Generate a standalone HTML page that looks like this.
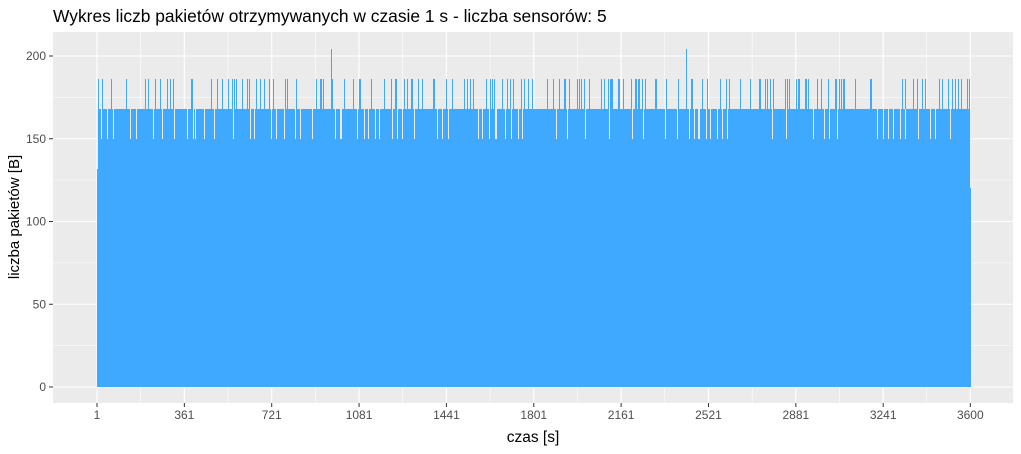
<!DOCTYPE html>
<html><head><meta charset="utf-8"><style>
body{margin:0;background:#fff;font-family:"Liberation Sans",sans-serif}
</style></head><body>
<svg id="c" width="1021" height="449" xmlns="http://www.w3.org/2000/svg">
<rect x="0" y="0" width="1021" height="449" fill="#fff"/>
<rect x="53" y="32" width="960" height="371" fill="#EBEBEB"/>
<g id="grid"></g><g id="bars" shape-rendering="crispEdges"></g><g id="axes"></g>
<text x="53" y="22" font-size="17.4" fill="#000">Wykres liczb pakietów otrzymywanych w czasie 1 s - liczba sensorów: 5</text>
<text x="533" y="442" font-size="15.5" text-anchor="middle" fill="#000">czas [s]</text>
<text transform="translate(19,217) rotate(-90)" font-size="15" text-anchor="middle" fill="#000">liczba pakietów [B]</text>
</svg>
<script>
const N = 3600;
const baseValue = 168;
const firstValue = 132;
const lastValue = 120;
const spikes186 = [7,23,60,122,200,213,241,262,291,303,316,390,394,472,497,518,542,559,567,575,600,621,629,658,674,691,711,728,777,786,823,905,922,926,934,971,1021,1058,1082,1087,1132,1185,1214,1231,1235,1268,1280,1297,1301,1326,1342,1388,1392,1441,1466,1515,1528,1540,1552,1606,1623,1631,1639,1672,1693,1705,1717,1750,1763,1779,1796,1858,1882,1907,1928,1932,1948,1981,1989,1998,2010,2031,2080,2093,2109,2117,2121,2126,2150,2154,2171,2204,2220,2224,2233,2237,2249,2262,2303,2307,2348,2398,2451,2455,2497,2517,2571,2595,2608,2653,2694,2731,2736,2756,2764,2777,2789,2839,2847,2855,2884,2892,2896,2921,2925,2933,2971,2987,3016,3045,3049,3061,3070,3078,3082,3127,3189,3193,3321,3333,3366,3383,3403,3416,3474,3486,3511,3527,3540,3552,3564,3589,3597];
const spikes204 = [967,2431];
const dips150 = [19,44,68,138,163,233,270,320,373,398,406,443,485,563,633,650,720,740,773,819,839,889,984,1004,1008,1074,1103,1120,1148,1165,1219,1239,1260,1309,1404,1425,1449,1573,1590,1618,1643,1647,1684,1709,1738,1755,1895,1940,2014,2113,2208,2253,2344,2393,2443,2464,2480,2484,2513,2529,2558,2579,2600,2785,2843,2954,2999,3020,3053,3218,3243,3263,3284,3313,3335,3385,3436,3457,3519];
const xTicks = [1,361,721,1081,1441,1801,2161,2521,2881,3241,3600];
const yTicks = [0,50,100,150,200];

const NS="http://www.w3.org/2000/svg";
const values = new Array(N).fill(baseValue);
spikes186.forEach(t=>values[t-1]=186);
spikes204.forEach(t=>values[t-1]=204);
dips150.forEach(t=>values[t-1]=150);
values[0]=firstValue; values[N-1]=lastValue;

const x0=97, x1=970.3, y0=387, ky=(387-56)/200;
const xs=t=>x0+(t-1)*(x1-x0)/(N-1);
const ys=v=>y0-v*ky;
function mk(tag,attrs,parent){const e=document.createElementNS(NS,tag);for(const k in attrs)e.setAttribute(k,attrs[k]);parent.appendChild(e);return e;}
const grid=document.getElementById('grid'), bars=document.getElementById('bars'), axes=document.getElementById('axes');
for(let i=0;i<yTicks.length;i++){
  const y=ys(yTicks[i]);
  const g=mk('line',{x1:53,x2:1013,y1:y,y2:y,stroke:'#fff','stroke-width':1.1},grid);
  
  
  if(i<yTicks.length-1){const ym=ys((yTicks[i]+yTicks[i+1])/2);
    mk('line',{x1:53,x2:1013,y1:ym,y2:ym,stroke:'#fff','stroke-width':0.55},grid);}
  const l=mk('text',{x:46,y:y+4,'font-size':12,'text-anchor':'end',fill:'#4D4D4D'},axes);l.textContent=yTicks[i];
  
  
  mk('line',{x1:49,x2:53,y1:y,y2:y,stroke:'#333','stroke-width':1},axes);
}
const ym0=ys(yTicks[yTicks.length-1]+25);
mk('line',{x1:53,x2:1013,y1:ym0,y2:ym0,stroke:'#fff','stroke-width':0.55},grid);
for(let i=0;i<xTicks.length;i++){
  const x=xs(xTicks[i]);
  const g=mk('line',{x1:x,x2:x,y1:32,y2:403,stroke:'#fff','stroke-width':1.1},grid);
  
  
  if(i<xTicks.length-1){const xm=(x+xs(xTicks[i+1]))/2;
    mk('line',{x1:xm,x2:xm,y1:32,y2:403,stroke:'#fff','stroke-width':0.55},grid);}
  const l=mk('text',{x:x,y:419,'font-size':12,'text-anchor':'middle',fill:'#4D4D4D'},axes);l.textContent=xTicks[i];
  
  
  mk('line',{x1:x,x2:x,y1:403,y2:407,stroke:'#333','stroke-width':1},axes);
}
const order=[...Array(N).keys()].sort((a,b)=>{
  const p=v=>v===baseValue?0:(v>baseValue?1:2);
  return p(values[a])-p(values[b]);
});
for(const i of order){
  const v=values[i], x=Math.floor(xs(i+1)), y=ys(v);
  const r=mk('rect',{x:x,y:Math.round(y),width:1,height:y0-Math.round(y),fill:'#3FA9FF'},bars);
  
  
  if(v<baseValue){
    const gy=Math.round(ys(baseValue));
    mk('rect',{x:x,y:gy,width:1,height:Math.round(y)-gy,fill:'#EBEBEB'},bars);
  }
}
</script>
</body></html>
